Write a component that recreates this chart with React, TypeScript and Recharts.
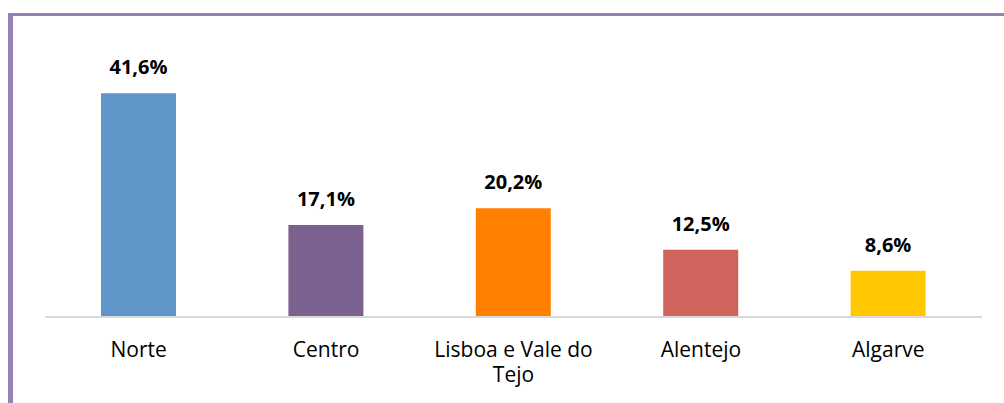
import { BarChart, Bar, XAxis, YAxis, Cell, LabelList } from "recharts";

const regions = ["Norte", "Centro", "Lisboa e Vale do Tejo", "Alentejo", "Algarve"];
const shares = [41.6, 17.1, 20.2, 12.5, 8.6];
const barColors = ["#5f95c9", "#7a6190", "#ff7f00", "#d0645c", "#ffc800"];

const chartData = regions.map((name, i) => ({ name, value: shares[i] }));

const formatPct = (v: number) => v.toFixed(1).replace(".", ",") + "%";

// greedy word wrap by character count
const wrapWords = (s: string, maxChars: number) => {
  const lines: string[] = [];
  let cur = "";
  s.split(" ").forEach((w) => {
    const next = cur ? cur + " " + w : w;
    if (next.length > maxChars && cur) {
      lines.push(cur);
      cur = w;
    } else {
      cur = next;
    }
  });
  if (cur) lines.push(cur);
  return lines;
};

const RegionTick = (props: any) => {
  const { x, y, payload } = props;
  const lines = wrapWords(String(payload.value), 16);
  return (
    <text
      x={x}
      y={y + 32}
      textAnchor="middle"
      fontSize={21}
      fontFamily="'Open Sans', sans-serif"
      fill="#000"
    >
      {lines.map((l, i) => (
        <tspan key={i} x={x} dy={i === 0 ? 0 : 25}>
          {l}
        </tspan>
      ))}
    </text>
  );
};

export default function App() {
  return (
    <div style={{ position: "absolute", left: 0, top: 0, width: 1004, height: 403, background: "#fff" }}>
      <div
        style={{
          position: "absolute",
          left: 8,
          top: 13,
          right: 0,
          bottom: 0,
          borderLeft: "5px solid #9a80b9",
          borderTop: "3px solid #9a80b9",
        }}
      />
      <div style={{ position: "absolute", left: 0, top: 0 }}>
        <BarChart
          width={1004}
          height={403}
          data={chartData}
          margin={{ top: 75, right: 22, left: 45, bottom: 0 }}
        >
          <XAxis
            dataKey="name"
            height={86}
            tickLine={false}
            axisLine={{ stroke: "#d9d9d9", strokeWidth: 2 }}
            tick={<RegionTick />}
            interval={0}
          />
          <YAxis hide domain={[0, 45]} />
          <Bar dataKey="value" barSize={75} isAnimationActive={false}>
            {chartData.map((d, i) => (
              <Cell key={d.name} fill={barColors[i]} />
            ))}
            <LabelList
              dataKey="value"
              position="top"
              offset={19}
              formatter={(v: any) => formatPct(Number(v))}
              style={{ fontSize: 20, fontWeight: 700, fontFamily: "'Open Sans', sans-serif", fill: "#000" }}
            />
          </Bar>
        </BarChart>
      </div>
    </div>
  );
}
